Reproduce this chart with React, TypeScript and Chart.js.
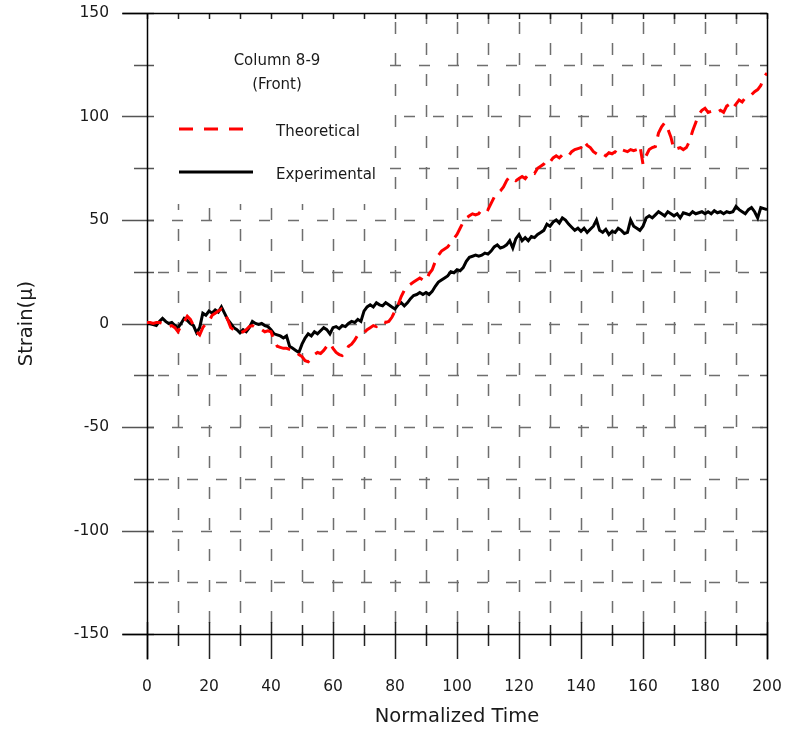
import React, { useEffect, useRef } from 'react';
import { Chart, registerables } from 'chart.js';

Chart.register(...registerables);

// Normalized time step between samples
const TIME_STEP = 1;

// Experimental strain (black solid), one value per time step, t = 0..200
const EXPERIMENTAL = [
  0, 0, -0.5, -1, 1, 2.5, 1, 0, 0.5, -1,
  -2, 0, 2.5, 1.5, 0, -1, -4.5, -2, 5, 4,
  6, 5, 6.5, 5.5, 8, 5, 2, 0, -2, -3,
  -4.5, -3, -4, -2, 1, 0, -0.5, 0, -1, -1.5,
  -3, -5, -5.5, -6, -7, -6, -11, -12, -13, -14,
  -10, -7, -5, -6, -4, -5, -3.5, -2, -3, -5,
  -2, -1.5, -2.5, -1, -1.5, 0, 1, 0.5, 2, 1,
  6, 8, 9, 8, 10, 9, 8.5, 10, 9, 8,
  7, 9, 10, 8.5, 10, 12, 13.5, 14, 15, 14,
  15, 14, 15.5, 18, 20, 21, 22, 23, 25, 24.5,
  26, 25.5, 27, 30, 32, 32.5, 33, 32.5, 33, 34,
  33.5, 35, 37, 38, 36.5, 37, 38, 40, 36.5, 41,
  43, 40, 41.5, 40, 42, 41.5, 43, 44, 45, 48,
  47, 49, 50, 48.5, 51, 50, 48, 46.5, 45, 46,
  44.5, 46, 44, 45.5, 47, 50, 45, 44, 45.5, 43,
  44.5, 44, 46, 45, 43.5, 44, 50, 47, 46, 45,
  47, 51, 52, 51, 52.5, 54, 53, 52, 54, 53,
  52, 53, 51, 53.5, 53, 52.5, 54, 53, 53.5, 54,
  53, 54, 53, 54.5, 53.5, 54, 53, 54, 53.5, 54,
  56.5, 55, 54, 53, 55, 56, 54, 51, 56, 55.5,
  55,
];

// Theoretical strain (red dashed), one value per time step, t = 0..200
const THEORETICAL = [
  0.5, 0.5, 0, 0.5, 0.5, 0, -1, -1.5, -1, -2,
  -4, -1, 1, 3.5, 2, -1, -4, -5.5, -2, 0,
  1, 4, 5, 6, 7, 5, 2, -2, -3, -3.5,
  -4.5, -4, -3, -1.5, -1, -2, -2.5, -3, -4, -3.5,
  -4, -8, -11, -11.5, -12, -12, -12.5, -13, -13.5, -15,
  -16, -18, -18.5, -17, -15, -14, -14.5, -13, -11, -9.5,
  -12, -14, -15, -15.5, -14, -11, -10, -8, -5.5, -5,
  -4.5, -3, -2, -1, -1.5, 0, 1, 0.5, 1, 3,
  6, 9, 13, 16, 18, 19, 20, 21, 22, 21,
  20.5, 24, 26, 30, 33, 35, 36, 37, 39, 41,
  43, 46, 49, 51, 52, 53, 52.5, 53, 55, 56,
  55, 58, 61, 63, 64, 66, 69, 71, 70, 69,
  70, 71, 70, 72, 73, 72.5, 75, 76, 77, 79,
  78, 80, 81, 80, 81.5, 82, 81, 83, 84, 84.5,
  85, 88, 86, 85, 83, 82, 81, 82, 81, 82.5,
  82, 83, 82, 84, 83.5, 83, 84, 83.5, 84, 86,
  77, 81, 84, 85, 85.5, 92, 95, 97, 94, 90,
  84, 84.5, 85, 84, 85, 88, 93, 97, 101, 103,
  104, 102, 102.5, 103, 102, 103, 102, 105, 106, 104,
  106, 108, 107, 109, 110, 110.5, 112, 113, 115, 119,
  121,
];

const X_MIN = 0;
const X_MAX = 200;
const X_MAJOR_STEP = 20;
const X_MINOR_STEP = 10;
const Y_MIN = -150;
const Y_MAX = 150;
const Y_MAJOR_STEP = 50;
const Y_MINOR_STEP = 25;

const ANNOTATION_LINES = ['Column 8-9', '(Front)'];
const SERIES_NAMES = ['Theoretical', 'Experimental'];
const X_TITLE = 'Normalized Time';
const Y_TITLE = 'Strain(\u03bc)';

const FONT = '"DejaVu Sans", Verdana, sans-serif';
const TEXT_COLOR = '#1a1a1a';
const RED = '#ff0000';
const BLACK = '#000000';

const toPoints = (arr: number[]) => arr.map((v, i) => ({ x: i * TIME_STEP, y: v }));

const zeroPadding = (axis: any) => {
  axis.paddingLeft = 0;
  axis.paddingRight = 0;
  axis.paddingTop = 0;
  axis.paddingBottom = 0;
};

const framePlugin = {
  id: 'frame',
  beforeDatasetsDraw(chart: any) {
    const { ctx, chartArea: a, scales } = chart;
    const xs = scales.x;
    const ys = scales.y;
    ctx.save();

    // dashed grid
    ctx.strokeStyle = '#6e6e6e';
    ctx.lineWidth = 1.5;
    ctx.setLineDash([11, 18]);
    for (let v = Y_MIN + Y_MINOR_STEP; v < Y_MAX; v += Y_MINOR_STEP) {
      const py = Math.round(ys.getPixelForValue(v)) + 0.5;
      ctx.lineDashOffset = (v / Y_MINOR_STEP) % 2 === 0 ? 4 : 18;
      ctx.beginPath();
      ctx.moveTo(a.left, py);
      ctx.lineTo(a.right, py);
      ctx.stroke();
    }
    ctx.setLineDash([12, 19]);
    for (let v = X_MIN + X_MINOR_STEP; v < X_MAX; v += X_MINOR_STEP) {
      const px = Math.round(xs.getPixelForValue(v)) + 0.5;
      ctx.lineDashOffset = (v / X_MINOR_STEP) % 2 === 0 ? 20 : 10;
      ctx.beginPath();
      ctx.moveTo(px, a.bottom);
      ctx.lineTo(px, a.top);
      ctx.stroke();
    }
    ctx.setLineDash([]);
    ctx.lineDashOffset = 0;

    // blank legend box (white background, no border)
    ctx.fillStyle = '#ffffff';
    ctx.fillRect(a.left + 1, a.top + 1, 242, 190);

    // y ticks (left) and short inner ticks (right)
    ctx.strokeStyle = '#555';
    ctx.lineWidth = 1.5;
    for (let v = Y_MIN; v <= Y_MAX; v += Y_MINOR_STEP) {
      const py = Math.round(ys.getPixelForValue(v)) + 0.5;
      const major = (v - Y_MIN) % Y_MAJOR_STEP === 0;
      ctx.beginPath();
      ctx.moveTo(a.left - (major ? 25 : 13), py);
      ctx.lineTo(a.left + 7, py);
      ctx.moveTo(a.right - 7, py);
      ctx.lineTo(a.right, py);
      ctx.stroke();
    }
    // x ticks (bottom) and short ticks (top)
    ctx.strokeStyle = '#222';
    for (let v = X_MIN; v <= X_MAX; v += X_MINOR_STEP) {
      const px = Math.round(xs.getPixelForValue(v)) + 0.5;
      const major = (v - X_MIN) % X_MAJOR_STEP === 0;
      ctx.beginPath();
      ctx.moveTo(px, a.bottom - (major ? 12 : 9));
      ctx.lineTo(px, a.bottom + (major ? 25 : 12));
      ctx.moveTo(px, a.top);
      ctx.lineTo(px, a.top + 6);
      ctx.stroke();
    }

    // frame
    ctx.strokeStyle = BLACK;
    ctx.lineWidth = 1.5;
    const l = Math.round(a.left) + 0.5;
    const r = Math.round(a.right) + 0.5;
    const t = Math.round(a.top) + 0.5;
    const b = Math.round(a.bottom) + 0.5;
    ctx.beginPath();
    ctx.moveTo(l, t);
    ctx.lineTo(l, b + 25);
    ctx.moveTo(r, t);
    ctx.lineTo(r, b + 25);
    ctx.moveTo(l - 25, t);
    ctx.lineTo(r, t);
    ctx.moveTo(l - 25, b);
    ctx.lineTo(r, b);
    ctx.stroke();
    ctx.restore();
  },
  afterDraw(chart: any) {
    const { ctx, chartArea: a } = chart;
    ctx.save();
    ctx.fillStyle = TEXT_COLOR;
    ctx.font = `15px ${FONT}`;
    ctx.textAlign = 'center';
    ctx.textBaseline = 'middle';
    const cx = a.left + 130;
    ctx.fillText(ANNOTATION_LINES[0], cx, a.top + 48);
    ctx.fillText(ANNOTATION_LINES[1], cx, a.top + 72);

    // legend
    ctx.lineWidth = 3;
    ctx.strokeStyle = RED;
    ctx.setLineDash([14, 11]);
    ctx.beginPath();
    ctx.moveTo(a.left + 32, a.top + 116);
    ctx.lineTo(a.left + 97, a.top + 116);
    ctx.stroke();
    ctx.setLineDash([]);
    ctx.strokeStyle = BLACK;
    ctx.lineWidth = 3;
    ctx.beginPath();
    ctx.moveTo(a.left + 32, a.top + 159);
    ctx.lineTo(a.left + 106, a.top + 159);
    ctx.stroke();
    ctx.textAlign = 'left';
    ctx.fillText(SERIES_NAMES[0], a.left + 129, a.top + 119);
    ctx.fillText(SERIES_NAMES[1], a.left + 129, a.top + 162);
    ctx.restore();
  },
};

export default function App() {
  const canvasRef = useRef<HTMLCanvasElement | null>(null);

  useEffect(() => {
    if (!canvasRef.current) return;
    const chart = new Chart(canvasRef.current, {
      type: 'line',
      data: {
        datasets: [
          {
            label: SERIES_NAMES[0],
            data: toPoints(THEORETICAL),
            borderColor: RED,
            borderWidth: 3,
            borderDash: [15, 9],
            pointRadius: 0,
            tension: 0,
            fill: false,
          },
          {
            label: SERIES_NAMES[1],
            data: toPoints(EXPERIMENTAL),
            borderColor: BLACK,
            borderWidth: 3,
            pointRadius: 0,
            tension: 0,
            fill: false,
          },
        ],
      },
      options: {
        animation: false,
        responsive: false,
        maintainAspectRatio: false,
        layout: { padding: { left: 0, right: 19, top: 13, bottom: 0 } },
        plugins: {
          legend: { display: false },
          tooltip: { enabled: false },
        },
        scales: {
          x: {
            type: 'linear',
            min: X_MIN,
            max: X_MAX,
            grid: { display: false, drawTicks: false },
            border: { display: false },
            ticks: {
              stepSize: X_MAJOR_STEP,
              color: TEXT_COLOR,
              font: { family: FONT, size: 15.5 },
              padding: 44,
              maxRotation: 0,
            },
            title: {
              display: true,
              text: X_TITLE,
              color: TEXT_COLOR,
              font: { family: FONT, size: 19.5 },
              padding: { top: 0, bottom: 2 },
            },
            afterFit: (axis: any) => {
              axis.height = 97;
              zeroPadding(axis);
            },
          },
          y: {
            type: 'linear',
            min: Y_MIN,
            max: Y_MAX,
            grid: { display: false, drawTicks: false },
            border: { display: false },
            ticks: {
              stepSize: Y_MAJOR_STEP,
              color: TEXT_COLOR,
              font: { family: FONT, size: 15.5 },
              padding: 38,
            },
            title: {
              display: true,
              text: Y_TITLE,
              color: TEXT_COLOR,
              font: { family: FONT, size: 19.5 },
              padding: { top: 15, bottom: 0 },
            },
            afterFit: (axis: any) => {
              axis.width = 147;
              zeroPadding(axis);
            },
          },
        },
      },
      plugins: [framePlugin],
    });
    return () => chart.destroy();
  }, []);

  return (
    <div style={{ position: 'absolute', left: 0, top: 0, width: 786, height: 731, background: '#fff' }}>
      <canvas ref={canvasRef} width={786} height={731} style={{ width: 786, height: 731 }} />
    </div>
  );
}
